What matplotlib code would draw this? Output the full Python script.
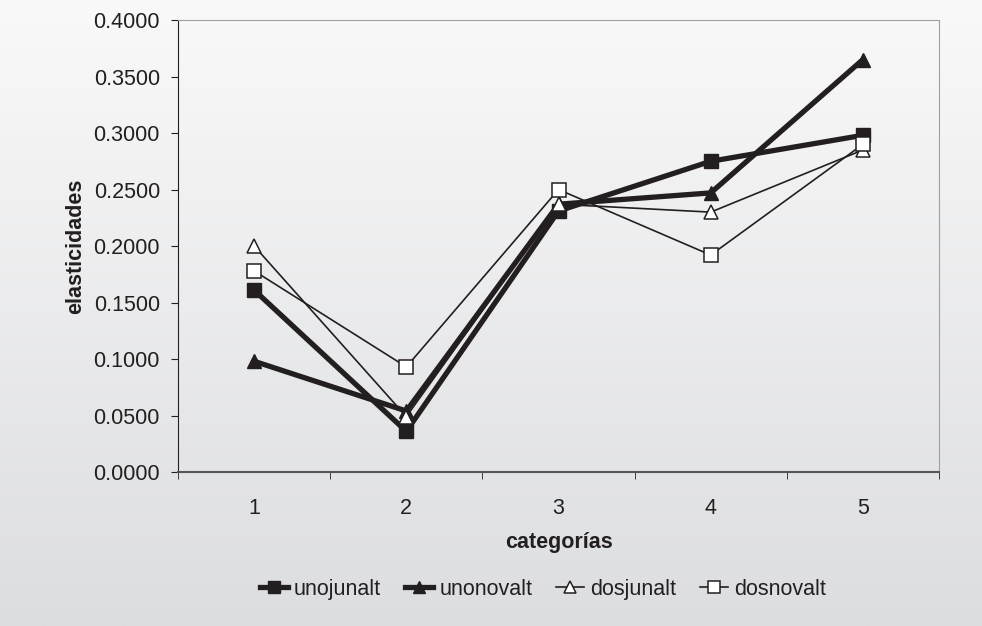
import numpy as np
import matplotlib
matplotlib.use('Agg')
import matplotlib.pyplot as plt
from matplotlib.ticker import FormatStrFormatter, MultipleLocator

plt.rcParams['font.family'] = ['Liberation Sans', 'DejaVu Sans']

categories = [1, 2, 3, 4, 5]
unojunalt = [0.161, 0.036, 0.231, 0.275, 0.298]
unonovalt = [0.098, 0.054, 0.237, 0.247, 0.365]
dosjunalt = [0.200, 0.049, 0.237, 0.230, 0.285]
dosnovalt = [0.178, 0.093, 0.250, 0.192, 0.290]

fig = plt.figure(figsize=(9.82, 6.26), dpi=100)

# gradient background over the whole figure
bg = fig.add_axes([0, 0, 1, 1], zorder=-10)
grad = np.linspace(0, 1, 256).reshape(-1, 1)
bg.imshow(grad, aspect='auto', cmap=matplotlib.colors.LinearSegmentedColormap.from_list(
    'bg', ['#f9f9f9', '#dcdde0']), extent=[0, 1, 0, 1], origin='upper')
bg.set_axis_off()

ax = fig.add_axes([0.1813, 0.246, 0.7749, 0.722])
ax.patch.set_alpha(0)

ink = '#231f20'
ax.plot(categories, unojunalt, color=ink, lw=3.8, marker='s', ms=9.5,
        mfc=ink, mec=ink, label='unojunalt')
ax.plot(categories, unonovalt, color=ink, lw=3.8, marker='^', ms=10,
        mfc=ink, mec=ink, label='unonovalt')
ax.plot(categories, dosjunalt, color=ink, lw=1.2, marker='^', ms=10,
        mfc='white', mec=ink, mew=1.1, label='dosjunalt')
ax.plot(categories, dosnovalt, color=ink, lw=1.2, marker='s', ms=9.5,
        mfc='white', mec=ink, mew=1.1, label='dosnovalt')

ax.set_xlim(0.5, 5.5)
ax.set_ylim(0, 0.4)
ax.set_xticks(categories)
ax.set_xticks([0.5, 1.5, 2.5, 3.5, 4.5, 5.5], minor=True)
ax.tick_params(axis='x', which='major', length=0, pad=19, labelsize=15.5, colors=ink)
ax.tick_params(axis='x', which='minor', length=5, direction='out', color=ink)
ax.yaxis.set_major_locator(MultipleLocator(0.05))
ax.yaxis.set_major_formatter(FormatStrFormatter('%.4f'))
ax.tick_params(axis='y', length=5, direction='out', labelsize=15.5, colors=ink, pad=8)

ax.spines['left'].set_color(ink)
ax.spines['bottom'].set_color('#555555')
ax.spines['bottom'].set_linewidth(1.5)
ax.spines['top'].set_color('#a0a0a0')
ax.spines['right'].set_color('#a0a0a0')

ax.set_xlabel('categorías', fontsize=15.5, fontweight='bold', color=ink, labelpad=9)
ax.set_ylabel('elasticidades', fontsize=15.5, fontweight='bold', color=ink, labelpad=5)

fig.legend(loc='center', bbox_to_anchor=(0.553, 0.059), ncol=4, frameon=False,
           fontsize=15.5, handlelength=1.3, handletextpad=0.3, columnspacing=1.1,
           labelcolor=ink, markerscale=0.9)

fig.savefig('out.png', dpi=100)
